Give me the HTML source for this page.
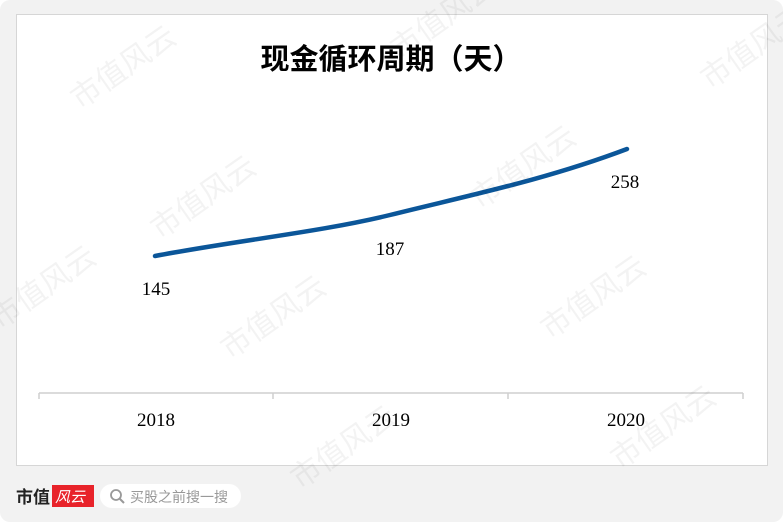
<!DOCTYPE html>
<html><head><meta charset="utf-8"><style>
body{margin:0;width:783px;height:522px;background:#fff;overflow:hidden;font-family:"Liberation Serif","Noto Serif CJK SC",serif}
.bg{position:absolute;left:0;top:0;width:783px;height:522px;background:#f2f2f2;border-radius:10px}
.panel{position:absolute;left:16px;top:14px;width:750px;height:450px;background:#fff;border:1px solid #d6d6d6}
</style></head><body>
<div class="bg"></div>
<div class="panel"></div>
<svg width="783" height="522" style="position:absolute;left:0;top:0">
<text x="391" y="69" text-anchor="middle" font-family="Noto Sans CJK SC,sans-serif" font-weight="bold" font-size="29" fill="#000">现金循环周期（天）</text>
<path d="M155,256 C240,240 320,232 390,215 C470,195 545,180 627,149" fill="none" stroke="#0b5699" stroke-width="4.5" stroke-linecap="round"/>
<g font-size="19" fill="#000" text-anchor="middle">
<text x="156" y="295">145</text>
<text x="390" y="255">187</text>
<text x="625" y="188">258</text>
<text x="156" y="426">2018</text>
<text x="391" y="426">2019</text>
<text x="626" y="426">2020</text>
</g>
<g stroke="#cfcfcf" stroke-width="1.5" fill="none">
<path d="M39,393 H743 M39,393 v6 M273,393 v6 M508,393 v6 M743,393 v6"/>
</g>
<g font-family="Noto Sans CJK SC,sans-serif" font-size="30" fill="#000" opacity="0.05">
<text transform="translate(80,110) rotate(-35)">市值风云</text>
<text transform="translate(400,60) rotate(-35)">市值风云</text>
<text transform="translate(160,240) rotate(-35)">市值风云</text>
<text transform="translate(480,210) rotate(-35)">市值风云</text>
<text transform="translate(710,90) rotate(-35)">市值风云</text>
<text transform="translate(230,360) rotate(-35)">市值风云</text>
<text transform="translate(550,340) rotate(-35)">市值风云</text>
<text transform="translate(0,330) rotate(-35)">市值风云</text>
<text transform="translate(300,490) rotate(-35)">市值风云</text>
<text transform="translate(620,470) rotate(-35)">市值风云</text>
</g>
<text x="16" y="503" font-family="Noto Sans CJK SC,sans-serif" font-weight="bold" font-size="17" fill="#222">市值</text>
<rect x="52" y="485" width="42" height="22" fill="#e8232a"/>
<text x="55" y="502" font-family="Noto Sans CJK SC,sans-serif" font-size="15" fill="#fff" font-style="italic">风云</text>
<rect x="100" y="484" width="141" height="24" rx="12" fill="#fff"/>
<circle cx="116" cy="495" r="5" stroke="#999" stroke-width="1.8" fill="none"/>
<path d="M120,499 l4,4" stroke="#999" stroke-width="2"/>
<text x="130" y="502" font-family="Noto Sans CJK SC,sans-serif" font-size="14" fill="#999">买股之前搜一搜</text>
</svg>
</body></html>
